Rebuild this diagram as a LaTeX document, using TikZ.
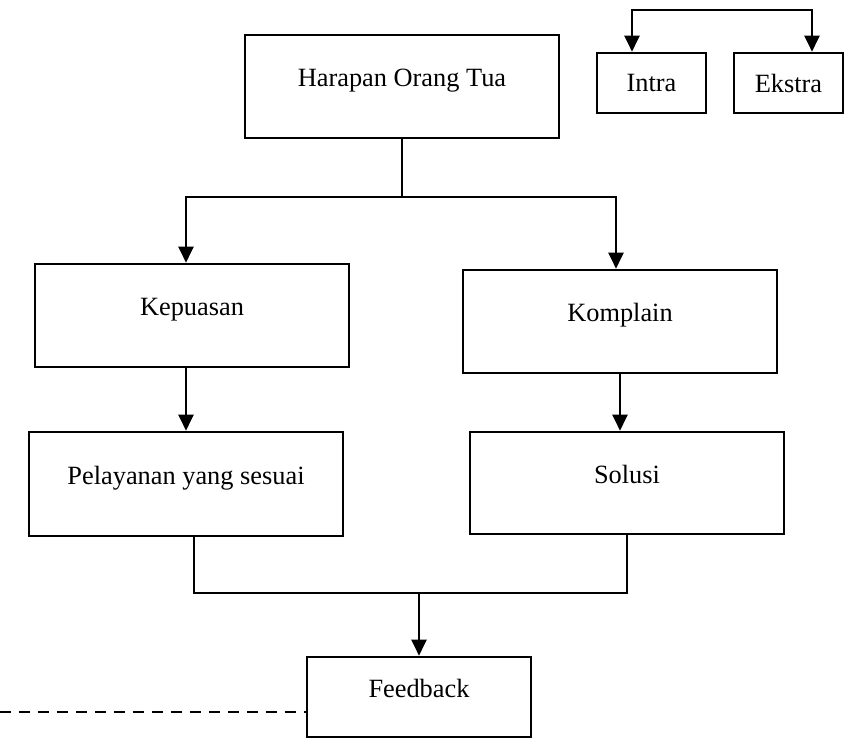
\documentclass[tikz,border=0pt]{standalone}
\usepackage{fontspec}
\setmainfont{Liberation Serif}
\usetikzlibrary{arrows.meta}
\begin{document}
\begin{tikzpicture}[x=0.02cm,y=-0.02cm,font=\fontsize{15}{18}\selectfont,
   >={Triangle[length=0.32cm,width=0.3cm]},
   kotak/.style={draw,line width=1.5pt,inner sep=0pt,minimum width=6.28cm,minimum height=2.06cm,text height=1.5ex,text depth=1.5ex},
   kecil/.style={draw,line width=1.5pt,inner sep=0pt,minimum width=2.18cm,minimum height=1.2cm},
   garis/.style={line width=1.3pt},
   panah/.style={garis,->}]
   \useasboundingbox (0,0) rectangle (845,740);
   \node[kotak] (harapan) at (402,86.5) {Harapan Orang Tua};
   \node[kecil] (intra) at (651.5,83) {Intra};
   \node[kecil] (ekstra) at (788.5,83) {Ekstra};
   \node[kotak] (kepuasan) at (192,315.5) {Kepuasan};
   \node[kotak] (komplain) at (620,321.5) {Komplain};
   \node[kotak,minimum height=2.08cm] (pelayanan) at (186,484) {Pelayanan yang sesuai};
   \node[kotak,minimum height=2.04cm] (solusi) at (627,483) {Solusi};
   \node[kotak,minimum width=4.48cm,minimum height=1.6cm] (feedback) at (419,697) {Feedback};
   \coordinate (palang) at (722,10);
   \coordinate (cabang) at (402,197);
   \coordinate (gabung) at (419,593);
   \coordinate (kiri) at (0,712);
   % intra / ekstra
   \draw[garis,<->] (intra.north -| 632,0) |- (palang) -| (ekstra.north -| 812,0);
   % harapan ke kepuasan / komplain
   \draw[garis] (harapan.south) -- (cabang);
   \draw[panah] (cabang) -| (kepuasan.north -| 186,0);
   \draw[panah] (cabang) -| (komplain.north -| 616,0);
   \draw[panah] (pelayanan.north |- kepuasan.south) -- (pelayanan.north);
   \draw[panah] (komplain.south) -- (komplain.south |- solusi.north);
   % ke feedback
   \draw[garis] (pelayanan.south -| 194,0) |- (gabung) -| (solusi.south);
   \draw[panah] (gabung) -- (feedback.north);
   \draw[garis,dash pattern=on 0.22cm off 0.16cm] (kiri) -- (kiri -| feedback.west);
\end{tikzpicture}
\end{document}
